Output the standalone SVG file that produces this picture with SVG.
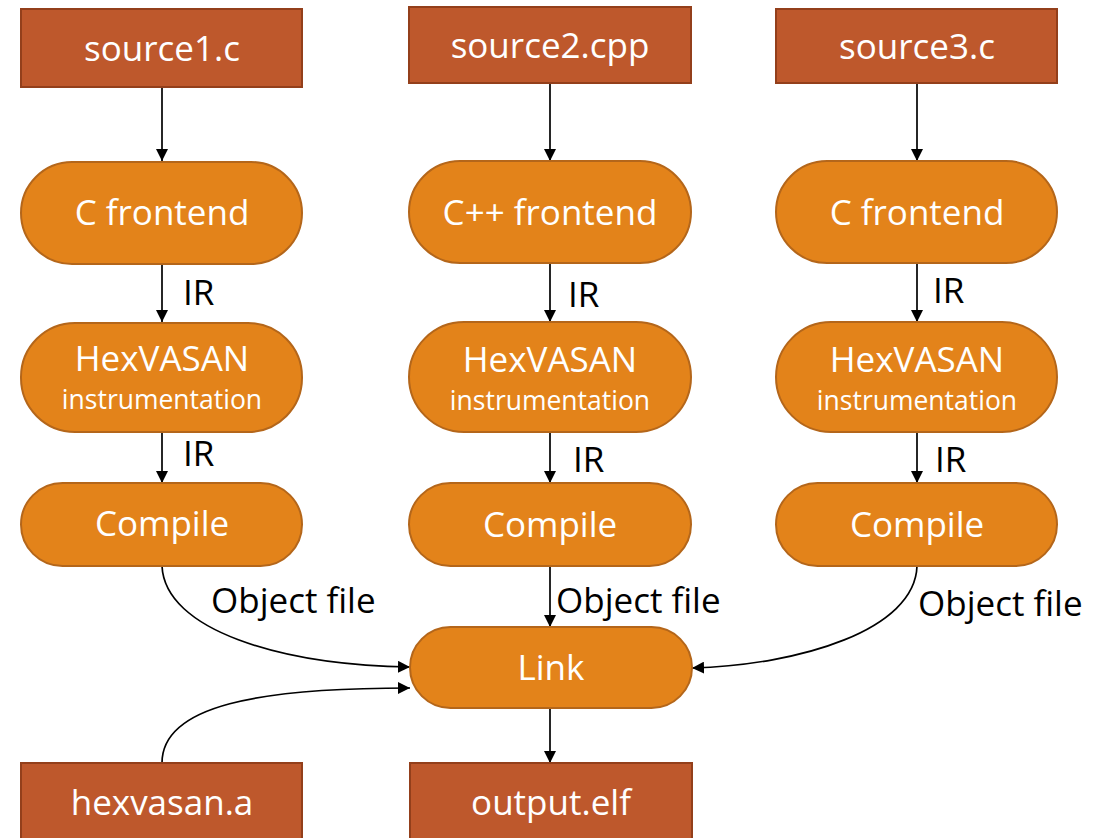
<svg xmlns="http://www.w3.org/2000/svg" width="1107" height="838" viewBox="0 0 1107 838">
  <style>
    .file { fill: #BE582C; stroke: #933F1B; stroke-width: 2; }
    .step { fill: #E3831A; stroke: #B4661A; stroke-width: 2; }
    .lbl { font-family: "Open Sans", "Noto Sans", sans-serif; fill: #ffffff; text-anchor: middle; font-size: 35px; }
    .sub { font-size: 26.5px; }
    .edge { font-family: "Open Sans", "Noto Sans", sans-serif; fill: #000000; font-size: 35px; }
    .conn { fill: none; stroke: #000000; stroke-width: 1.7; marker-end: url(#arrow); }
  </style>
  <defs>
    <marker id="arrow" markerUnits="userSpaceOnUse" markerWidth="13" markerHeight="12" refX="12" refY="6" orient="auto">
      <path d="M0,0 L12,6 L0,12 z" fill="#000000"/>
    </marker>
  </defs>
  <rect width="1107" height="838" fill="#ffffff"/>

  <!-- connectors -->
  <g id="connectors">
    <path class="conn" d="M162,87 L162,161"/>
    <path class="conn" d="M550,83 L550,161"/>
    <path class="conn" d="M917,83 L917,161"/>
    <path class="conn" d="M162,264 L162,322"/>
    <path class="conn" d="M550,264 L550,322"/>
    <path class="conn" d="M917,264 L917,322"/>
    <path class="conn" d="M162,432 L162,483"/>
    <path class="conn" d="M550,432 L550,483"/>
    <path class="conn" d="M917,432 L917,483"/>
    <path class="conn" d="M162,566 C165,630 280,665 410,667"/>
    <path class="conn" d="M550,566 L550,627"/>
    <path class="conn" d="M917,566 C915,630 800,665 692,668"/>
    <path class="conn" d="M162,763 C162,705 260,688 410,688"/>
    <path class="conn" d="M550,708 L550,763"/>
    <text class="edge" x="183" y="305">IR</text>
    <text class="edge" x="183" y="466">IR</text>
    <text class="edge" x="568" y="307">IR</text>
    <text class="edge" x="573" y="472">IR</text>
    <text class="edge" x="933" y="303">IR</text>
    <text class="edge" x="935" y="472">IR</text>
    <text class="edge" x="211" y="613">Object file</text>
    <text class="edge" x="556" y="613">Object file</text>
    <text class="edge" x="918" y="616">Object file</text>
  </g>

  <!-- input sources -->
  <g id="source1">
    <rect class="file" x="21" y="9" width="281" height="78"/>
    <text class="lbl" x="162" y="61">source1.c</text>
  </g>
  <g id="source2">
    <rect class="file" x="409" y="7" width="282" height="76"/>
    <text class="lbl" x="550" y="58">source2.cpp</text>
  </g>
  <g id="source3">
    <rect class="file" x="776" y="9" width="281" height="74"/>
    <text class="lbl" x="917" y="59">source3.c</text>
  </g>

  <!-- frontends -->
  <g id="frontend1">
    <rect class="step" x="21" y="162" width="281" height="102" rx="51"/>
    <text class="lbl" x="162" y="225">C frontend</text>
  </g>
  <g id="frontend2">
    <rect class="step" x="409" y="161" width="282" height="102" rx="51"/>
    <text class="lbl" x="550" y="225">C++ frontend</text>
  </g>
  <g id="frontend3">
    <rect class="step" x="776" y="161" width="281" height="102" rx="51"/>
    <text class="lbl" x="917" y="225">C frontend</text>
  </g>

  <!-- instrumentation passes -->
  <g id="hexvasan1">
    <rect class="step" x="21" y="323" width="281" height="109" rx="54"/>
    <text class="lbl" x="162" y="371">HexVASAN</text>
    <text class="lbl sub" x="162" y="409">instrumentation</text>
  </g>
  <g id="hexvasan2">
    <rect class="step" x="409" y="322" width="282" height="110" rx="55"/>
    <text class="lbl" x="550" y="372">HexVASAN</text>
    <text class="lbl sub" x="550" y="410">instrumentation</text>
  </g>
  <g id="hexvasan3">
    <rect class="step" x="776" y="322" width="281" height="110" rx="55"/>
    <text class="lbl" x="917" y="372">HexVASAN</text>
    <text class="lbl sub" x="917" y="410">instrumentation</text>
  </g>

  <!-- compile steps -->
  <g id="compile1">
    <rect class="step" x="21" y="483" width="281" height="83" rx="41.5"/>
    <text class="lbl" x="162" y="536">Compile</text>
  </g>
  <g id="compile2">
    <rect class="step" x="409" y="483" width="282" height="83" rx="41.5"/>
    <text class="lbl" x="550" y="537">Compile</text>
  </g>
  <g id="compile3">
    <rect class="step" x="776" y="483" width="281" height="83" rx="41.5"/>
    <text class="lbl" x="917" y="537">Compile</text>
  </g>

  <!-- link and outputs -->
  <g id="link">
    <rect class="step" x="410" y="627" width="282" height="81" rx="40.5"/>
    <text class="lbl" x="551" y="680">Link</text>
  </g>
  <g id="runtime">
    <rect class="file" x="21" y="763" width="281" height="80"/>
    <text class="lbl" x="162" y="815">hexvasan.a</text>
  </g>
  <g id="output">
    <rect class="file" x="410" y="763" width="282" height="80"/>
    <text class="lbl" x="551" y="815">output.elf</text>
  </g>
</svg>
